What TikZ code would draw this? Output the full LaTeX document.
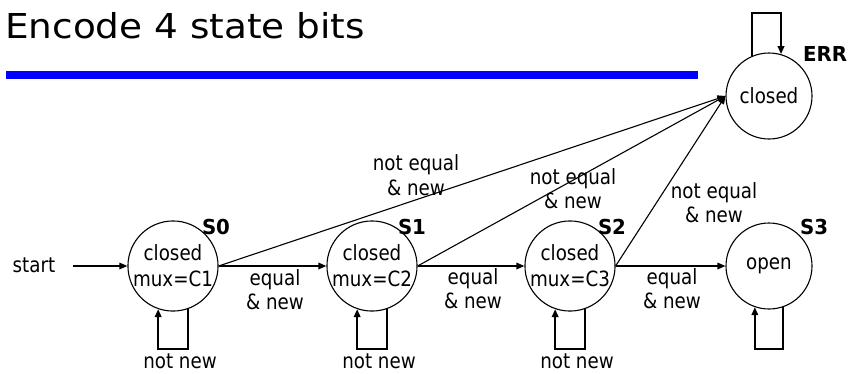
\documentclass[tikz,border=0pt]{standalone}
\usepackage{fontspec}
\usetikzlibrary{arrows.meta}
\newfontfamily\bodyfont[FakeStretch=0.87]{DejaVu Sans}
\newfontfamily\labfont[FakeStretch=0.96]{DejaVu Sans}
\newfontfamily\titlefont[FakeStretch=1.09]{DejaVu Sans}
\definecolor{barblue}{RGB}{0,0,255}
\tikzset{
  state/.style={circle, draw, line width=1.1pt, minimum size=86pt, inner sep=0pt, align=center,
    font=\bodyfont\fontsize{21}{26}\selectfont},
  lbl/.style={align=center, inner sep=0pt, font=\bodyfont\fontsize{21}{24.5}\selectfont},
  slbl/.style={inner sep=0pt, font=\labfont\bfseries\fontsize{20.6}{24}\selectfont},
  tip/.style={-{Triangle[length=8pt,width=6.5pt]}},
  harr/.style={tip, line width=1.6pt},
  darr/.style={tip, line width=1.1pt},
  selfloop/.style={tip, line width=2pt},
}
\begin{document}
\begin{tikzpicture}[x=1pt,y=-1pt]
\useasboundingbox (0,0) rectangle (850,373);
% title and bar
\node[anchor=base west, inner sep=0pt, font=\titlefont\fontsize{34.3}{40}\selectfont] (title) at (5,38) {Encode 4 state bits};
\fill[barblue] (6,71) rectangle (698,79);
% states
\node[state] (s0) at (173,266) {closed\\mux=C1};
\node[state] (s1) at (372,266) {closed\\mux=C2};
\node[state] (s2) at (570,266) {closed\\mux=C3};
\node[state] (s3) at (769,266) {open};
\node[state] (err) at (769,96) {closed};
% state labels
\node[slbl] (l0) at (216,227) {S0};
\node[slbl] (l1) at (412,227) {S1};
\node[slbl] (l2) at (612,227) {S2};
\node[slbl] (l3) at (814,227) {S3};
\node[slbl] (le) at (825,54) {ERR};
% start
\node[lbl] (start) at (34,265) {start};
\coordinate (stx) at (73,266);
\draw[harr] (stx) -- (s0.west);
% equal & new
\draw[harr] (s0.east) -- (s1.west);
\draw[harr] (s1.east) -- (s2.west);
\draw[harr] (s2.east) -- (s3.west);
\node[lbl] (e01) at (275,289.5) {equal\\\& new};
\node[lbl] (e12) at (473,288.5) {equal\\\& new};
\node[lbl] (e23) at (672,288.5) {equal\\\& new};
% not equal
\draw[darr] (s0.east) -- (err.west);
\draw[darr] (s1.east) -- (err.west);
\draw[darr] (s2.east) -- (err.west);
\node[lbl] (n0) at (416,175) {not equal\\\& new};
\node[lbl] (n1) at (573,188.5) {not equal\\\& new};
\node[lbl] (n2) at (714,202.5) {not equal\\\& new};
% self loops
\coordinate (lb) at (0,349);
\coordinate (lt) at (0,13);
\draw[selfloop] (s0.-71) -- (s0.-71 |- lb) -| (s0.-109);
\draw[selfloop] (s1.-71) -- (s1.-71 |- lb) -| (s1.-109);
\draw[selfloop] (s2.-71) -- (s2.-71 |- lb) -| (s2.-109);
\draw[selfloop] (s3.-71) -- (s3.-71 |- lb) -| (s3.-109);
\draw[selfloop] (err.113) -- (err.113 |- lt) -| (err.74);
\node[lbl, anchor=base] (nn0) at (180,368) {not new};
\node[lbl, anchor=base] (nn1) at (379,368) {not new};
\node[lbl, anchor=base] (nn2) at (577,368) {not new};
\end{tikzpicture}
\end{document}
